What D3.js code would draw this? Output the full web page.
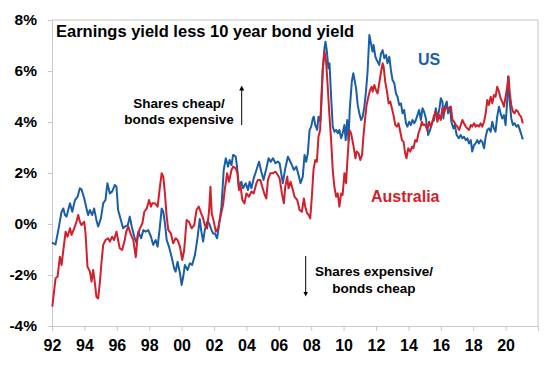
<!DOCTYPE html>
<html>
<head>
<meta charset="utf-8">
<script src="https://cdn.jsdelivr.net/npm/d3@7"></script>
<style>
  html, body { margin: 0; padding: 0; background: #fff; }
  svg { display: block; font-family: "Liberation Sans", Arial, sans-serif; font-weight: bold; }
</style>
</head>
<body>
<svg id="chart" width="548" height="366"></svg>
<script>
// ---- Data (year, % spread) ----
const usData = [
[1992.0,-0.73],[1992.22,-0.80],[1992.39,-0.24],[1992.59,0.48],[1992.70,0.61],[1992.80,0.35],[1992.90,0.29],
[1993.11,0.81],[1993.25,0.48],[1993.42,0.94],[1993.58,1.07],[1993.72,1.40],[1993.82,1.36],[1993.99,1.00],
[1994.13,0.61],[1994.23,0.35],[1994.34,0.55],[1994.48,0.35],[1994.60,0.61],[1994.74,0.16],[1994.85,-0.10],
[1995.02,0.22],[1995.16,0.81],[1995.30,0.94],[1995.42,1.60],[1995.57,1.20],[1995.71,1.27],[1995.88,1.53],
[1995.98,1.46],[1996.08,0.55],[1996.25,0.16],[1996.39,-0.17],[1996.51,-0.10],[1996.68,-0.04],[1996.80,0.29],
[1996.92,-0.10],[1997.08,-0.50],[1997.23,-0.76],[1997.33,-0.30],[1997.50,-0.56],[1997.64,-0.24],[1997.78,-0.30],
[1997.94,-0.24],[1998.11,-0.50],[1998.25,-0.82],[1998.40,-0.63],[1998.52,-0.89],[1998.66,-0.10],[1998.77,0.61],
[1998.87,0.48],[1998.97,0.03],[1999.08,-0.63],[1999.22,-0.89],[1999.38,-1.28],[1999.54,-1.74],[1999.63,-1.87],
[1999.75,-1.48],[1999.90,-1.93],[2000.00,-2.39],[2000.10,-2.07],[2000.20,-1.61],[2000.37,-1.80],[2000.51,-1.54],
[2000.65,-1.61],[2000.82,-1.22],[2000.98,-0.56],[2001.12,0.20],[2001.22,-0.30],[2001.33,-0.69],[2001.43,-0.24],
[2001.58,0.09],[2001.70,0.03],[2001.85,-0.24],[2001.94,-0.37],[2002.05,-0.37],[2002.19,-0.56],[2002.31,-0.04],
[2002.46,0.68],[2002.60,2.12],[2002.73,2.58],[2002.87,2.25],[2002.97,2.51],[2003.08,2.31],[2003.18,2.71],
[2003.34,2.64],[2003.42,2.25],[2003.54,1.46],[2003.69,1.66],[2003.79,1.40],[2003.96,1.60],[2004.10,1.33],
[2004.20,1.66],[2004.31,1.40],[2004.45,1.79],[2004.62,2.12],[2004.78,2.44],[2004.92,2.05],[2005.06,1.73],
[2005.23,2.18],[2005.37,2.58],[2005.50,2.44],[2005.64,2.58],[2005.80,2.38],[2005.94,2.45],[2006.05,2.38],
[2006.15,1.99],[2006.25,1.60],[2006.40,2.18],[2006.56,2.64],[2006.66,2.51],[2006.81,2.31],[2006.93,2.12],
[2007.08,2.25],[2007.22,1.92],[2007.34,1.60],[2007.48,1.86],[2007.59,2.71],[2007.69,2.44],[2007.79,2.77],
[2007.90,3.69],[2008.00,3.82],[2008.10,4.14],[2008.16,4.21],[2008.25,3.88],[2008.37,3.69],[2008.45,4.21],
[2008.57,4.01],[2008.65,4.99],[2008.71,6.04],[2008.82,6.89],[2008.88,7.15],[2008.96,6.82],[2009.06,6.11],
[2009.13,6.30],[2009.23,4.99],[2009.33,3.82],[2009.43,3.62],[2009.54,3.69],[2009.64,3.56],[2009.74,3.69],
[2009.85,3.36],[2009.94,3.56],[2010.05,3.88],[2010.13,3.29],[2010.22,4.08],[2010.30,3.29],[2010.38,4.50],
[2010.51,5.60],[2010.60,5.91],[2010.77,5.32],[2010.87,4.67],[2010.97,4.34],[2011.08,4.08],[2011.18,4.21],
[2011.28,4.60],[2011.38,5.19],[2011.48,5.97],[2011.59,7.41],[2011.69,7.08],[2011.79,6.76],[2011.85,7.02],
[2011.96,6.56],[2012.10,6.36],[2012.20,6.24],[2012.31,6.69],[2012.41,6.82],[2012.51,6.50],[2012.62,6.63],
[2012.71,6.30],[2012.82,6.56],[2012.92,6.04],[2013.02,5.65],[2013.13,5.52],[2013.23,5.12],[2013.33,4.99],
[2013.43,4.67],[2013.54,4.73],[2013.64,4.34],[2013.74,4.47],[2013.85,3.95],[2013.94,3.82],[2014.05,4.01],
[2014.15,3.88],[2014.25,4.08],[2014.36,3.95],[2014.46,4.08],[2014.56,4.27],[2014.66,4.47],[2014.77,4.08],
[2014.87,4.54],[2014.97,4.40],[2015.08,4.14],[2015.22,3.49],[2015.34,3.69],[2015.48,4.01],[2015.59,4.08],
[2015.69,4.54],[2015.79,4.14],[2015.90,4.47],[2016.00,4.93],[2016.10,4.80],[2016.16,4.14],[2016.25,4.60],
[2016.37,4.80],[2016.45,4.34],[2016.57,4.60],[2016.65,4.01],[2016.78,3.75],[2016.86,3.88],[2016.98,3.49],
[2017.11,3.36],[2017.23,3.49],[2017.33,3.36],[2017.43,3.42],[2017.54,3.29],[2017.64,3.36],[2017.74,3.16],
[2017.85,3.29],[2017.94,2.84],[2018.05,3.10],[2018.15,3.16],[2018.25,3.29],[2018.36,3.16],[2018.46,3.29],
[2018.56,3.23],[2018.67,2.97],[2018.77,3.42],[2018.87,3.69],[2018.97,3.75],[2019.08,3.62],[2019.18,4.01],
[2019.28,3.75],[2019.38,3.62],[2019.48,4.21],[2019.59,4.60],[2019.69,4.34],[2019.79,4.14],[2019.90,4.27],
[2020.00,3.88],[2020.10,4.86],[2020.16,5.78],[2020.25,4.86],[2020.35,4.14],[2020.45,3.88],[2020.55,3.95],
[2020.68,3.82],[2020.78,3.88],[2020.88,3.69],[2020.98,3.49],[2021.06,3.32]
];
const ausData = [
[1992.02,-3.24],[1992.22,-2.13],[1992.34,-2.07],[1992.49,-1.28],[1992.59,-1.61],[1992.70,-1.02],[1992.84,-0.30],
[1992.96,-0.50],[1993.11,-0.17],[1993.21,-0.43],[1993.37,-0.17],[1993.51,0.09],[1993.62,0.35],[1993.72,0.09],
[1993.82,-0.04],[1993.99,0.09],[1994.07,-0.37],[1994.19,-1.67],[1994.34,-1.87],[1994.44,-2.26],[1994.54,-1.80],
[1994.65,-2.33],[1994.74,-2.85],[1994.85,-2.92],[1994.95,-2.33],[1995.05,-1.54],[1995.16,-0.82],[1995.30,-0.63],
[1995.46,-0.56],[1995.57,-0.69],[1995.71,-0.50],[1995.83,-0.63],[1995.98,-0.30],[1996.08,-0.63],[1996.18,-0.95],
[1996.33,-1.02],[1996.49,-0.63],[1996.58,-0.30],[1996.71,-0.10],[1996.88,-0.43],[1997.02,-0.63],[1997.17,-1.30],
[1997.29,-0.43],[1997.43,-0.17],[1997.58,0.03],[1997.70,0.48],[1997.85,0.61],[1997.99,0.94],[1998.11,0.68],
[1998.19,0.81],[1998.36,0.81],[1998.52,0.68],[1998.66,1.46],[1998.77,1.99],[1998.87,1.86],[1998.97,1.20],
[1999.08,0.29],[1999.18,-0.24],[1999.34,-0.37],[1999.48,-0.76],[1999.63,-0.56],[1999.75,-0.63],[1999.90,-0.89],
[2000.04,-1.41],[2000.16,-1.02],[2000.31,0.16],[2000.45,0.09],[2000.62,-0.17],[2000.78,-0.04],[2000.92,0.55],
[2001.06,0.68],[2001.19,0.45],[2001.33,0.22],[2001.43,-0.04],[2001.58,-0.17],[2001.70,0.55],[2001.78,1.46],
[2001.86,0.42],[2001.99,0.09],[2002.11,-0.30],[2002.25,-0.17],[2002.40,0.29],[2002.56,0.75],[2002.66,1.33],
[2002.81,1.99],[2002.93,1.66],[2003.08,2.12],[2003.18,2.25],[2003.34,2.18],[2003.45,1.99],[2003.54,1.33],
[2003.63,1.53],[2003.75,0.94],[2003.88,0.81],[2004.00,1.20],[2004.16,1.07],[2004.31,1.27],[2004.45,1.20],
[2004.62,1.60],[2004.71,1.73],[2004.86,1.73],[2004.98,1.46],[2005.13,1.14],[2005.23,1.00],[2005.33,1.73],
[2005.48,1.99],[2005.64,1.99],[2005.80,2.05],[2005.94,1.92],[2006.05,1.79],[2006.19,1.20],[2006.31,0.81],
[2006.40,1.46],[2006.52,1.86],[2006.60,1.40],[2006.73,1.66],[2006.87,1.33],[2006.97,1.07],[2007.14,0.94],
[2007.28,0.55],[2007.42,0.48],[2007.55,1.00],[2007.63,0.68],[2007.75,0.42],[2007.85,0.35],[2007.94,0.22],
[2008.04,1.07],[2008.14,2.12],[2008.25,2.51],[2008.35,2.44],[2008.45,3.42],[2008.55,3.69],[2008.63,4.99],
[2008.71,6.04],[2008.82,6.76],[2008.92,6.36],[2009.02,5.38],[2009.13,4.21],[2009.23,3.29],[2009.33,2.12],
[2009.43,1.46],[2009.54,1.07],[2009.64,1.20],[2009.74,0.68],[2009.85,1.20],[2009.94,1.14],[2010.05,1.99],
[2010.15,1.60],[2010.25,2.64],[2010.36,3.69],[2010.46,3.56],[2010.60,3.10],[2010.73,2.58],[2010.81,2.84],
[2010.93,2.77],[2011.03,2.51],[2011.14,2.71],[2011.22,3.42],[2011.32,4.08],[2011.42,4.67],[2011.53,4.99],
[2011.63,5.25],[2011.73,5.38],[2011.79,5.19],[2011.90,5.45],[2012.00,5.25],[2012.10,5.12],[2012.20,5.52],
[2012.31,5.97],[2012.41,6.30],[2012.47,6.17],[2012.57,5.58],[2012.68,5.19],[2012.78,4.73],[2012.88,4.80],
[2012.98,4.54],[2013.08,4.27],[2013.19,3.88],[2013.29,3.82],[2013.39,3.95],[2013.50,3.62],[2013.60,3.29],
[2013.70,3.23],[2013.80,2.77],[2013.88,2.58],[2013.99,2.97],[2014.11,2.84],[2014.22,3.03],[2014.31,2.97],
[2014.42,3.29],[2014.52,3.23],[2014.62,3.56],[2014.73,3.75],[2014.83,4.01],[2014.91,3.88],[2015.03,3.90],
[2015.17,3.69],[2015.28,4.01],[2015.38,3.82],[2015.48,4.01],[2015.59,4.27],[2015.69,4.41],[2015.79,4.01],
[2015.90,4.27],[2016.00,4.08],[2016.10,4.54],[2016.20,4.34],[2016.31,4.60],[2016.41,4.54],[2016.51,4.54],
[2016.62,4.60],[2016.72,4.08],[2016.82,4.01],[2016.92,3.88],[2017.02,3.82],[2017.13,3.69],[2017.23,3.88],
[2017.33,4.08],[2017.43,3.95],[2017.54,3.82],[2017.64,3.75],[2017.74,3.69],[2017.85,3.88],[2017.94,3.82],
[2018.05,3.95],[2018.15,3.82],[2018.25,3.88],[2018.36,3.82],[2018.46,3.95],[2018.56,3.82],[2018.67,4.01],
[2018.77,4.34],[2018.87,4.86],[2018.97,4.67],[2019.08,4.99],[2019.18,4.73],[2019.28,5.06],[2019.38,4.99],
[2019.48,5.38],[2019.59,5.19],[2019.69,4.93],[2019.79,4.80],[2019.90,4.60],[2020.00,4.99],[2020.10,5.38],
[2020.18,5.78],[2020.26,5.12],[2020.35,4.67],[2020.45,4.41],[2020.55,4.34],[2020.65,4.47],[2020.76,4.41],
[2020.86,4.27],[2020.96,4.21],[2021.06,3.95]
];
const xTickYears = [1992,1994,1996,1998,2000,2002,2004,2006,2008,2010,2012,2014,2016,2018,2020,2022];
const xTickLabels = ["92","94","96","98","00","02","04","06","08","10","12","14","16","18","20",""];
const yTickValues = [-4,-2,0,2,4,6,8];
const yTickLabels = ["-4%","-2%","0%","2%","4%","6%","8%"];
const title = "Earnings yield less 10 year bond yield";

// ---- Layout ----
const svg = d3.select("#chart");
const L = 52, R = 538, T = 20, B = 326;
const x = d3.scaleLinear().domain([1992, 2022]).range([L, R]);
const y = d3.scaleLinear().domain([-4, 8]).range([B, T]);
const gridCol = "#c8c8c8";
const blue = "#1a5ea8", red = "#d21f2c";

svg.append("defs").append("marker")
  .attr("id","arrow").attr("viewBox","0 0 10 10").attr("refX",5).attr("refY",5)
  .attr("markerWidth",5).attr("markerHeight",5).attr("orient","auto-start-reverse")
  .append("path").attr("d","M0,0 L10,5 L0,10 z").attr("fill","#000");

// Plot frame (top and right)
svg.append("path")
  .attr("d", `M${L},${T}H${R}V${B}`)
  .attr("fill","none").attr("stroke", gridCol).attr("stroke-width",1);

// X axis
const xAxis = svg.append("g").attr("transform", `translate(0,${B})`)
  .call(d3.axisBottom(x).tickValues(xTickYears).tickSize(5).tickSizeOuter(0)
        .tickFormat((d,i) => xTickLabels[i]));
xAxis.select(".domain").attr("stroke", gridCol);
xAxis.selectAll(".tick line").attr("stroke", gridCol);
xAxis.selectAll(".tick text").attr("fill","#000").attr("font-size","16px")
  .attr("font-family",'"Liberation Sans", Arial, sans-serif').attr("font-weight","bold").attr("dy","1.05em");

// Y axis
const yAxis = svg.append("g").attr("transform", `translate(${L},0)`)
  .call(d3.axisLeft(y).tickValues(yTickValues).tickSize(4).tickSizeOuter(0)
        .tickFormat((d,i) => yTickLabels[i]));
yAxis.select(".domain").attr("stroke", gridCol);
yAxis.selectAll(".tick line").attr("stroke", gridCol);
yAxis.selectAll(".tick text").attr("fill","#000").attr("font-size","15.5px")
  .attr("font-family",'"Liberation Sans", Arial, sans-serif').attr("font-weight","bold").attr("x",-15);

// Lines
const line = d3.line().x(d => x(d[0])).y(d => y(d[1]));
svg.append("path").datum(usData).attr("d", line)
  .attr("fill","none").attr("stroke", blue).attr("stroke-width",2).attr("stroke-linejoin","round");
svg.append("path").datum(ausData).attr("d", line)
  .attr("fill","none").attr("stroke", red).attr("stroke-width",2).attr("stroke-linejoin","round");

// Title
svg.append("text").attr("x",56).attr("y",36.5).attr("font-size","16.5px").attr("fill","#000").text(title);

// Series labels
svg.append("text").attr("x",418).attr("y",65).attr("font-size","16px").attr("fill",blue).text("US");
svg.append("text").attr("x",371).attr("y",202).attr("font-size","16px").attr("fill",red).text("Australia");

// Annotations
const ann1 = svg.append("text").attr("font-size","13.5px").attr("fill","#000").attr("text-anchor","middle");
ann1.append("tspan").attr("x",179).attr("y",108.3).text("Shares cheap/");
ann1.append("tspan").attr("x",179).attr("y",124.3).text("bonds expensive");
svg.append("line").attr("x1",241.7).attr("x2",241.7).attr("y1",125).attr("y2",88)
  .attr("stroke","#000").attr("stroke-width",1).attr("marker-end","url(#arrow)");

const ann2 = svg.append("text").attr("font-size","13.5px").attr("fill","#000").attr("text-anchor","middle");
ann2.append("tspan").attr("x",374).attr("y",276).text("Shares expensive/");
ann2.append("tspan").attr("x",374).attr("y",292.7).text("bonds cheap");
svg.append("line").attr("x1",305.7).attr("x2",305.7).attr("y1",256).attr("y2",294)
  .attr("stroke","#000").attr("stroke-width",1).attr("marker-end","url(#arrow)");
</script>
</body>
</html>
